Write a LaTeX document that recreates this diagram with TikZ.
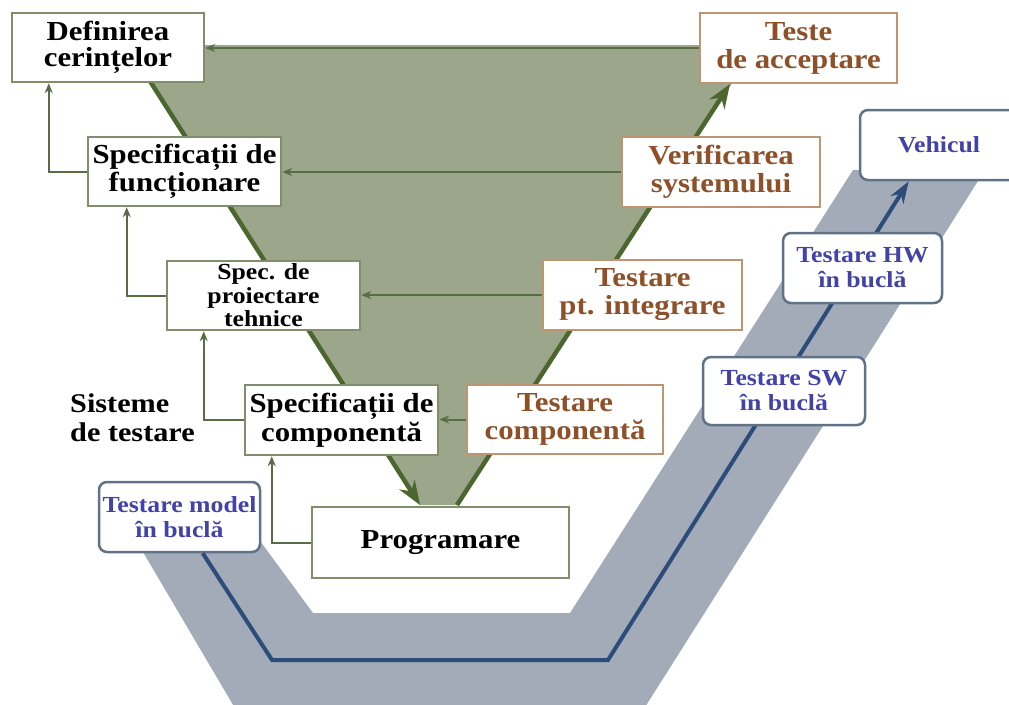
\documentclass[tikz,border=0pt]{standalone}
\usepackage{fontspec}
\setmainfont{Liberation Serif}[FakeStretch=1.12]
\usetikzlibrary{arrows.meta}
\usepackage{xcolor}

\definecolor{trigreen}{RGB}{155,166,138}
\definecolor{arrgreen}{RGB}{76,102,48}
\definecolor{thingreen}{RGB}{88,108,70}
\definecolor{boxgreen}{RGB}{128,142,108}
\definecolor{boxtan}{RGB}{192,148,112}
\definecolor{txtbrown}{RGB}{142,80,40}
\definecolor{bandgray}{RGB}{163,171,185}
\definecolor{loopblue}{RGB}{45,76,122}
\definecolor{txtblue}{RGB}{66,66,168}
\definecolor{roundgray}{RGB}{96,114,136}

\begin{document}
\begin{tikzpicture}[x=1pt,y=-1pt,
    specbox/.style={draw=boxgreen, line width=2.5pt, fill=white, inner sep=0pt, align=center,
        font=\fontsize{27.5}{26}\selectfont\bfseries},
    testbox/.style={draw=boxtan, line width=2.5pt, fill=white, inner sep=0pt, align=center,
        text=txtbrown, font=\fontsize{27.5}{28}\selectfont\bfseries},
    loopbox/.style={draw=roundgray, line width=2.5pt, fill=white, rounded corners=8pt,
        inner sep=0pt, align=center, text=txtblue, font=\fontsize{23}{25}\selectfont\bfseries},
    back/.style={thingreen, line width=2pt, -{Stealth[length=10pt,width=8pt]}},
    vline/.style={arrgreen, line width=4.5pt, -{Stealth[length=24pt,width=18pt]}},
    loopline/.style={loopblue, line width=4pt, -{Stealth[length=22pt,width=15pt]}}]

\clip (0,0) rectangle (1009,704);
\fill[white] (0,0) rectangle (1009,704);

% grey band under the test loop
\fill[bandgray] (130,530) -- (252,530) -- (313,613) -- (570,613) -- (853,170)
    -- (985,170) -- (640,715) -- (239,715) -- cycle;

% the V
\coordinate (tl) at (127,45);
\coordinate (tr) at (757,45);
\coordinate (br) at (457,505);
\coordinate (bl) at (420,505);
\coordinate (ta) at (730,84);
\fill[trigreen] (tl) -- (tr) -- (br) -- (bl) -- cycle;
\draw[vline] (tl) -- (bl);
\draw[vline] (br) -- (ta);

% left branch
\node[specbox, minimum width=192, minimum height=69] (def) at (108,47.5) {Definirea\\cerințelor};
\node[specbox, minimum width=193, minimum height=69] (func) at (184.5,171.5) {Specificații de\\funcționare};
\node[specbox, minimum width=193, minimum height=69, font=\fontsize{23}{23.5}\selectfont\bfseries]
    (proj) at (263.5,295.5) {Spec. de\\proiectare\\tehnice};
\node[specbox, minimum width=193, minimum height=70, font=\fontsize{27.5}{29}\selectfont\bfseries]
    (comp) at (341.5,420) {Specificații de\\componentă};
\node[specbox, minimum width=257, minimum height=71] (prog) at (440.5,542.5) {Programare};

% right branch
\node[testbox, minimum width=197, minimum height=70] (teste) at (798.5,48) {Teste\\de acceptare};
\node[testbox, minimum width=198, minimum height=70] (verif) at (721,172) {Verificarea\\systemului};
\node[testbox, minimum width=199, minimum height=70] (integ) at (642.5,295) {Testare\\pt. integrare};
\node[testbox, minimum width=196, minimum height=69] (tcomp) at (565,419.5) {Testare\\componentă};

\draw[back] (teste.west) -- (teste.west -| def.east);
\draw[back] (verif.west) -- (verif.west -| func.east);
\draw[back] (integ.west) -- (integ.west -| proj.east);
\draw[back] (tcomp.west) -- (tcomp.west -| comp.east);

\draw[back] (func.west) -| ([xshift=38pt]def.south west);
\draw[back] (proj.west) -| ([xshift=40pt]func.south west);
\draw[back] (comp.west) -| ([xshift=38pt]proj.south west);
\draw[back] (prog.west) -| ([xshift=28pt]comp.south west);

\node[anchor=west, align=left, inner sep=0pt, font=\fontsize{27}{29}\selectfont\bfseries]
    (sist) at (70,418) {Sisteme\\de testare};

% loop
\node[loopbox, minimum width=161, minimum height=70] (model) at (179.5,517) {Testare model\\în buclă};
\node[loopbox, minimum width=158, minimum height=70] (veh) at (939,145) {Vehicul};
\coordinate (c1) at (272,660);
\coordinate (c2) at (608,660);
\draw[loopline] ([xshift=105pt]model.south west) -- (c1) -- (c2) -- ([xshift=50pt]veh.south west);
\node[loopbox, minimum width=162, minimum height=68] (sw) at (784,391) {Testare SW\\în buclă};
\node[loopbox, minimum width=159, minimum height=70] (hw) at (862.5,268) {Testare HW\\în buclă};

\end{tikzpicture}
\end{document}
